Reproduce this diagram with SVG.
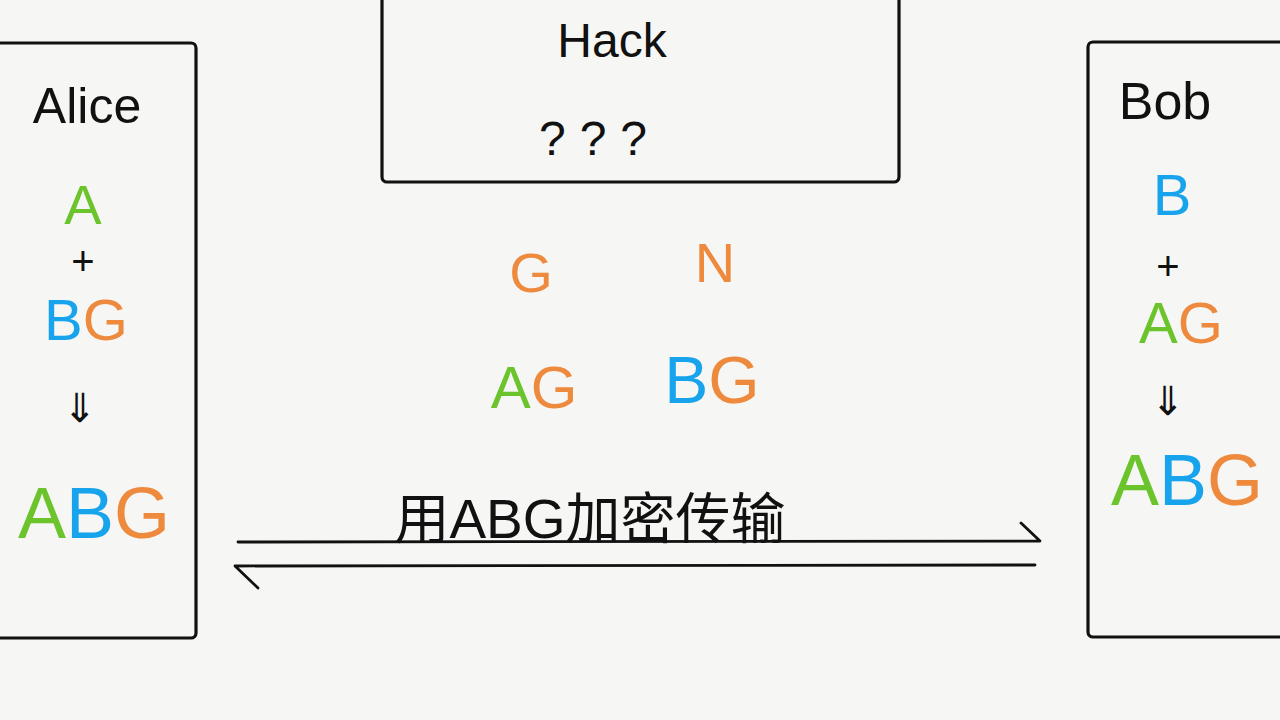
<svg xmlns="http://www.w3.org/2000/svg" width="1280" height="720" viewBox="0 0 1280 720">
<style>
.box{fill:none;stroke:#111;stroke-width:3.2}
.t{font-family:"Liberation Sans","Noto Sans CJK SC",sans-serif;text-anchor:middle}
.k{fill:#111}
.g{fill:#6cc42c}
.b{fill:#18a4ec}
.o{fill:#ee8a3e}
.ln{fill:none;stroke:#111;stroke-width:2.8;stroke-linecap:round;stroke-linejoin:round}
</style>
<rect width="1280" height="720" fill="#f6f6f4"/>
<g id="alice">
<rect class="box" x="-10" y="43" width="206" height="595" rx="5"/>
<text class="t k" x="87" y="123" font-size="50">Alice</text>
<text class="t g" x="83" y="224" font-size="56">A</text>
<text class="t k" x="83" y="275" font-size="40">+</text>
<text class="t" x="86" y="340" font-size="58"><tspan class="b">B</tspan><tspan class="o">G</tspan></text>
<text class="t k" x="80" y="422" font-size="40">⇓</text>
<text class="t" x="94" y="538" font-size="72"><tspan class="g">A</tspan><tspan class="b">B</tspan><tspan class="o">G</tspan></text>
</g>
<g id="hack">
<rect class="box" x="382" y="-12" width="517" height="194" rx="5"/>
<text class="t k" x="612" y="57" font-size="48">Hack</text>
<text class="t k" x="600" y="155" font-size="48" letter-spacing="14">???</text>
</g>
<g id="bob">
<rect class="box" x="1088" y="42" width="202" height="595" rx="5"/>
<text class="t k" x="1165" y="119" font-size="52">Bob</text>
<text class="t b" x="1172" y="215" font-size="58">B</text>
<text class="t k" x="1168" y="280" font-size="40">+</text>
<text class="t" x="1181" y="343" font-size="58"><tspan class="g">A</tspan><tspan class="o">G</tspan></text>
<text class="t k" x="1168" y="415" font-size="40">⇓</text>
<text class="t" x="1187" y="505" font-size="72"><tspan class="g">A</tspan><tspan class="b">B</tspan><tspan class="o">G</tspan></text>
</g>
<g id="public">
<text class="t o" x="531" y="292" font-size="56">G</text>
<text class="t o" x="715" y="282" font-size="56">N</text>
<text class="t" x="534" y="408" font-size="60"><tspan class="g">A</tspan><tspan class="o">G</tspan></text>
<text class="t" x="712" y="403" font-size="66"><tspan class="b">B</tspan><tspan class="o">G</tspan></text>
</g>
<g id="connectors">
<path class="ln" d="M238 542 L1040 541 L1021 523"/>
<path class="ln" d="M1035 565 L235 566 L258 588"/>
<text class="t k" x="590" y="538" font-size="55">用ABG加密传输</text>
</g>
</svg>
